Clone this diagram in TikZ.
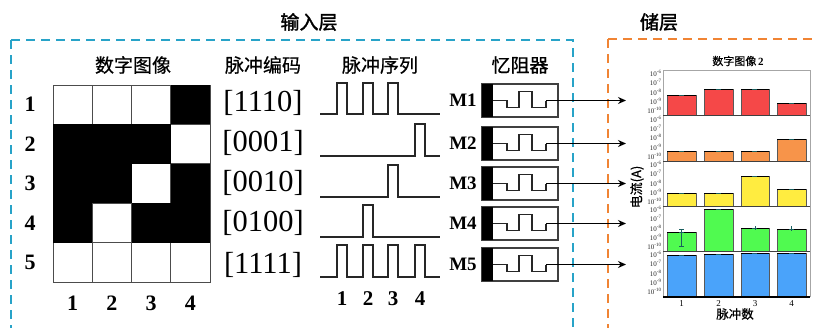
\documentclass[tikz,border=0pt]{standalone}
\usepackage{fontspec}
\setmainfont{Liberation Serif}
\newfontfamily\cjk{Noto Sans CJK SC}
\newfontfamily\cjkb[FakeBold=1.6]{Noto Sans CJK SC}
\newfontfamily\cjkm[FakeBold=0.6]{Noto Sans CJK SC}
\usetikzlibrary{arrows.meta}
\definecolor{bluebox}{RGB}{40,163,200}
\definecolor{orangebox}{RGB}{240,132,52}
\definecolor{barred}{RGB}{245,72,72}
\definecolor{barorange}{RGB}{247,148,74}
\definecolor{baryellow}{RGB}{255,236,64}
\definecolor{bargreen}{RGB}{80,250,80}
\definecolor{barblue}{RGB}{74,163,250}
\definecolor{errc}{RGB}{25,95,95}
\begin{document}
\begin{tikzpicture}[x=1pt,y=-1pt,
 every node/.style={inner sep=0pt,outer sep=0pt},
 cell/.style={draw=gray!60!black,line width=0.7pt,fill=white,minimum width=39.25pt,minimum height=39.4pt},
 rowlab/.style={font=\fontsize{22}{22}\selectfont\bfseries},
 codelab/.style={font=\fontsize{30.5}{30.5}\selectfont},
 hdr/.style={font=\fontsize{19}{19}\selectfont\cjkm},
 ttl/.style={font=\fontsize{19}{19}\selectfont\cjkb},
 pulse/.style={line width=1.6pt,draw=black!85},
 mem/.style={draw=black!75,line width=1.2pt,minimum width=76pt,minimum height=33pt},
 wave/.style={line width=1.1pt,draw=black!85},
 conn/.style={line width=1.2pt,-{Stealth[length=8pt,width=7pt]}},
 mlab/.style={font=\fontsize{19}{19}\selectfont\bfseries},
 tick/.style={font=\fontsize{7}{7}\selectfont,anchor=east,text=black!85},
 bar/.style={draw=black!65,line width=0.8pt},
 ]
\useasboundingbox (0,0) rectangle (816,327);
\clip (0,0) rectangle (816,327);
% dashed layer frames
\draw[bluebox,line width=2.6pt,dash pattern=on 9pt off 6pt] (11,40) -- (11,335);
\draw[bluebox,line width=2.6pt,dash pattern=on 9pt off 6pt] (11,40) -- (573,40) -- (573,335);
\draw[orangebox,line width=2.6pt,dash pattern=on 9pt off 6pt] (608,39) -- (608,335);
\draw[orangebox,line width=2.6pt,dash pattern=on 9pt off 6pt] (608,39) -- (830,39);
% titles
\node[ttl] (tin) at (309,22) {输入层};
\node[ttl] (tres) at (659,22) {储层};
\node[hdr] (h1) at (133,65) {数字图像};
\node[hdr] (h2) at (263,65) {脉冲编码};
\node[hdr] (h3) at (380,65) {脉冲序列};
\node[hdr] (h4) at (520,65) {忆阻器};
% grid
\foreach \r in {1,...,5}{
  \foreach \c in {1,...,4}{
    \node[cell] (c\r\c) at ({53+39.25*(\c-0.5)},{85+39.4*(\r-0.5)}) {};
  }
  \node[rowlab] (r\r) at (30,{85+39.4*(\r-0.5)}) {\r};
}
\foreach \r/\c in {1/4,2/1,2/2,2/3,3/1,3/2,3/4,4/1,4/3,4/4}{
  \fill[black] (c\r\c.south west) rectangle (c\r\c.north east);
}
\foreach \c in {1,...,4}{
  \node[rowlab] (col\c) at ({53+39.25*(\c-0.5)},303) {\c};
}
% codes
\node[codelab] (k1) at (263,103) {[1110]};
\node[codelab] (k2) at (263,143) {[0001]};
\node[codelab] (k3) at (263,183) {[0010]};
\node[codelab] (k4) at (263,223) {[0100]};
\node[codelab] (k5) at (263,265) {[1111]};
% pulse trains
\draw[pulse] (320,114) -- (337,114) -- (337,83) -- (347,83) -- (347,114) -- (363,114) -- (363,83) -- (373,83) -- (373,114) -- (388,114) -- (388,83) -- (398,83) -- (398,114) -- (440,114);
\draw[pulse] (320,156) -- (415,156) -- (415,124) -- (425,124) -- (425,156) -- (440,156);
\draw[pulse] (320,197) -- (388,197) -- (388,165) -- (398,165) -- (398,197) -- (440,197);
\draw[pulse] (320,237) -- (363,237) -- (363,205) -- (373,205) -- (373,237) -- (440,237);
\draw[pulse] (320,277) -- (337,277) -- (337,245) -- (347,245) -- (347,277) -- (363,277) -- (363,245) -- (373,245) -- (373,277) -- (388,277) -- (388,245) -- (398,245) -- (398,277) -- (415,277) -- (415,245) -- (425,245) -- (425,277) -- (440,277);
\foreach \x [count=\i] in {342,368,393,420}{
  \node[rowlab,font=\fontsize{21}{21}\selectfont\bfseries] (p\i) at (\x,299) {\i};
}
% memristors
\foreach \y [count=\i] in {100.5,143.5,183.5,223.5,264.5}{
  \node[mem] (m\i) at (520,\y) {};
  \fill[black] (m\i.north west) rectangle ([xshift=11pt]m\i.south west);
  \draw[wave] (493,\y) -- (507,\y) -- (507,\y+7) -- (519,\y+7) -- (519,\y-9) -- (532,\y-9) -- (532,\y+7) -- (546,\y+7) -- (546,\y);
  \coordinate (w\i) at (546,\y);
  \coordinate (t\i) at (626,\y);
  \draw[conn] (w\i) -- (t\i);
  \node[mlab] (ml\i) at (463,\y) {M\i};
}
% chart
\node[font=\fontsize{11}{11}\selectfont] (ctitle) at (738,61) {{\cjkm 数字图像}\,\textbf{2}};
\node[font=\fontsize{13}{13}\selectfont\cjkm,rotate=90] (ylab) at (637,187) {电流(A)};
\node[font=\fontsize{12.5}{12.5}\selectfont\cjkm] (xlab) at (735,314) {脉冲数};
\foreach \x [count=\i] in {681.5,718.5,755,791.5}{
  \node[font=\fontsize{9}{9}\selectfont] (xt\i) at (\x,304) {\i};
}
\foreach \P [count=\i] in {70,115.5,161,206,251}{
  \foreach \k/\e in {0/6,1/7,2/8,3/9,4/10}{
    \node[tick] (tk\i\k) at (661.5,{\P+3.5+9.3*\k}) {10\textsuperscript{-\e}};
  }
}
% bars
\def\bars#1#2#3#4#5#6{%
  \filldraw[bar,fill=#1] (667,#6) rectangle (696,#2);
  \filldraw[bar,fill=#1] (704,#6) rectangle (733,#3);
  \filldraw[bar,fill=#1] (741,#6) rectangle (769,#4);
  \filldraw[bar,fill=#1] (777,#6) rectangle (806,#5);
  \draw[black,line width=0.9pt] (667,#2) -- (696,#2) (704,#3) -- (733,#3) (741,#4) -- (769,#4) (777,#5) -- (806,#5);
  \draw[errc,line width=0.9pt] (679,#2) -- (684,#2) (716,#3) -- (721,#3) (752,#4) -- (757,#4) (789,#5) -- (794,#5);
}
\bars{barred}{95}{89}{89}{103}{115.5}
\bars{barorange}{151}{151.5}{151.5}{139}{161}
\bars{baryellow}{193}{193}{176}{189}{206}
\bars{bargreen}{232}{209}{228}{229}{251}
\bars{barblue}{255}{254}{253}{253}{297}
\draw[errc,line width=0.8pt] (681.5,229) -- (681.5,246) (679,229) -- (684,229) (679,246) -- (684,246);
\draw[errc,line width=0.8pt] (755,226) -- (755,230) (791.5,226) -- (791.5,231);
% frame
\draw[gray!70,line width=1pt] (663,297) -- (663,70) -- (810,70) -- (810,297);
\draw[black!75,line width=1pt] (663,115.5) -- (810,115.5) (663,161) -- (810,161) (663,206) -- (810,206) (663,251) -- (810,251);
\draw[black,line width=1.1pt] (663,297) -- (810,297);
\end{tikzpicture}
\end{document}
